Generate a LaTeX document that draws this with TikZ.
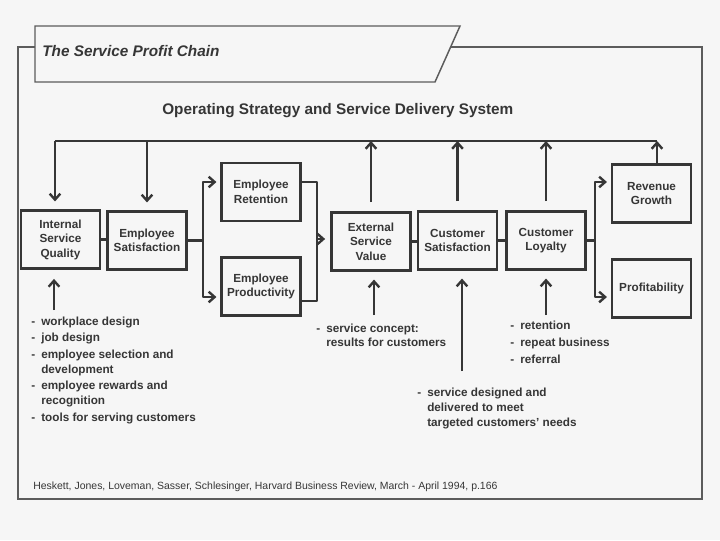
\documentclass[tikz,border=0pt]{standalone}
\usepackage{fontspec}
\setmainfont{Liberation Sans}
\usetikzlibrary{arrows.meta}
\definecolor{ink}{HTML}{363636}
\definecolor{frm}{HTML}{5C5C5C}
\definecolor{bg}{HTML}{F6F6F6}
\newcommand{\bul}{\makebox[7.5pt][l]{-}}
\newcommand{\ind}{\hspace*{7.5pt}}
\begin{document}
\begin{tikzpicture}[x=0.75pt,y=-0.75pt,
  box/.style={draw=ink,line width=1.6pt,minimum width=59.25pt,minimum height=43.5pt,
    align=center,inner sep=1pt,text=ink,font=\fontsize{8.8}{10.9}\selectfont\bfseries},
  conn/.style={draw=ink,line width=1.8pt,line join=round},
  tip/.tip={Straight Barb[length=4.5pt,width=8pt]},
  arr/.style={conn,-tip},
  lst/.style={anchor=north west,align=left,inner sep=0pt,text=ink,
    font=\fontsize{8.8}{10.8}\selectfont\bfseries},
]
% background and frame
\fill[bg] (0,0) rectangle (720,540);
\draw[frm,line width=1.1pt] (18,47) rectangle (702,499);
\draw[frm,line width=1.1pt,fill=bg] (35,26) -- (460,26) -- (435,82) -- (35,82) -- cycle;
\node[anchor=west,inner sep=0pt,text=ink,font=\fontsize{11.5}{13}\selectfont\bfseries\itshape]
  (ttl) at (42,51) {The Service Profit Chain};
\node[anchor=base west,inner sep=0pt,text=ink,font=\fontsize{11.5}{13}\selectfont\bfseries]
  (sub) at (162,114.5) {Operating Strategy and Service Delivery System};

% boxes
\node[box] (isq) at (60.5,239.5) {Internal\\Service\\Quality};
\node[box] (es)  at (147,240.5) {Employee\\Satisfaction};
\node[box] (er)  at (261,192) {Employee\\Retention};
\node[box] (ep)  at (261,286.5) {Employee\\Productivity};
\node[box] (esv) at (371,241.5) {External\\Service\\Value};
\node[box] (cs)  at (457.5,240.5) {Customer\\Satisfaction};
\node[box] (cl)  at (546,240.5) {Customer\\Loyalty};
\node[box] (rg)  at (651.5,193.5) {Revenue\\Growth};
\node[box] (pr)  at (651.5,288.5) {Profitability};

% top feedback line
\coordinate (tl) at (55,141);
\coordinate (tr) at (657,141);
\draw[conn] (tl) -- (tr);
\draw[arr,shorten >=6pt] (tl) -- (tl |- isq.north);
\draw[arr,shorten >=6pt] (es.north |- tl) -- (es.north);
\draw[arr,shorten <=7pt] (esv.north) -- (esv.north |- tl);
\draw[arr,shorten <=7pt] (cs.north) -- (cs.north |- tl);
\draw[arr,shorten <=7pt] (cl.north) -- (cl.north |- tl);
\draw[arr] (tr |- rg.north) -- (tr);

% chain
\draw[conn] (isq.east) -- (isq.east -| es.west);
\coordinate (f1a) at (203,182);
\coordinate (f1b) at (203,297);
\draw[conn] (es.east) -- (es.east -| f1a);
\draw[conn,tip-tip,shorten <=3pt,shorten >=3pt] (er.west |- f1a) -- (f1a) -- (f1b) -- (ep.west |- f1b);
\coordinate (m1) at (317,182);
\coordinate (m2) at (317,301);
\coordinate (m0) at (317,239);
\draw[conn] (er.east |- m1) -- (m1) -- (m2) -- (ep.east |- m2);
\draw[arr,shorten >=4pt] (m0) -- (m0 -| esv.west);
\draw[conn] (esv.east) -- (esv.east -| cs.west);
\draw[conn] (cs.east) -- (cs.east -| cl.west);
\coordinate (f2a) at (595,182);
\coordinate (f2b) at (595,297);
\draw[conn] (cl.east) -- (cl.east -| f2a);
\draw[conn,tip-tip,shorten <=3pt,shorten >=3pt] (rg.west |- f2a) -- (f2a) -- (f2b) -- (pr.west |- f2b);

% inputs
\coordinate (i1) at (54,310);
\coordinate (i2) at (374,315);
\coordinate (i3) at (462,371);
\coordinate (i4) at (546,315);
\draw[arr,shorten >=7pt] (i1) -- (i1 |- isq.south);
\draw[arr,shorten >=6pt] (i2) -- (i2 |- esv.south);
\draw[arr,shorten >=6pt] (i3) -- (i3 |- cs.south);
\draw[arr,shorten >=6pt] (i4) -- (i4 |- cl.south);

% lists
\node[lst] (l1) at (31,316.4) {\bul workplace design\\[1.8pt]
  \bul job design\\[1.8pt]
  \bul employee selection and\\ \ind development\\[1.8pt]
  \bul employee rewards and\\ \ind recognition\\[1.8pt]
  \bul tools for serving customers};
\node[lst] (l2) at (316,323.4) {\bul service concept:\\ \ind results for customers};
\node[lst] (l3) at (510,321) {\bul retention\\[1.9pt] \bul repeat business\\[1.9pt] \bul referral};
\node[lst] (l4) at (417,387.4) {\bul service designed and\\[0.4pt] \ind delivered to meet\\[0.4pt] \ind targeted customers' needs};

\node[anchor=base west,inner sep=0pt,text=ink,font=\fontsize{7.85}{9}\selectfont]
  (ft) at (33,489.6) {Heskett, Jones, Loveman, Sasser, Schlesinger, Harvard Business Review, March - April 1994, p.166};
\end{tikzpicture}
\end{document}
